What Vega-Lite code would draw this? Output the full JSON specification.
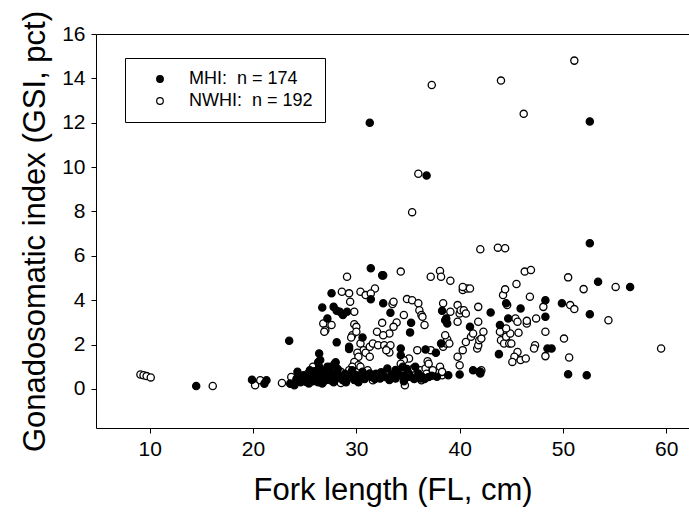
{
  "$schema": "https://vega.github.io/schema/vega-lite/v6.json",
  "width": 593,
  "height": 394,
  "autosize": {"type": "none"},
  "padding": {"left": 96, "top": 34, "right": 0, "bottom": 95},
  "background": "white",
  "config": {
    "font": "Liberation Sans",
    "view": {"stroke": null},
    "axis": {"grid": false, "domainColor": "black", "tickColor": "black", "labelColor": "black", "titleColor": "black", "titleFontWeight": "normal", "domainWidth": 1, "tickWidth": 1}
  },
  "data": {"values": [
    {"g":"NWHI","x":9.1,"y":0.65},{"g":"NWHI","x":9.4,"y":0.62},{"g":"NWHI","x":9.7,"y":0.58},{"g":"NWHI","x":10.1,"y":0.52},{"g":"NWHI","x":16.1,"y":0.13},{"g":"NWHI","x":20.2,"y":0.17},{"g":"NWHI","x":20.7,"y":0.39},{"g":"NWHI","x":22.8,"y":0.27},{"g":"NWHI","x":23.7,"y":0.54},
    {"g":"NWHI","x":51.1,"y":14.8},{"g":"NWHI","x":44.0,"y":13.9},{"g":"NWHI","x":37.3,"y":13.7},{"g":"NWHI","x":46.2,"y":12.4},{"g":"NWHI","x":36.0,"y":9.7},{"g":"NWHI","x":35.4,"y":7.97},{"g":"NWHI","x":42.0,"y":6.3},{"g":"NWHI","x":43.7,"y":6.37},{"g":"NWHI","x":44.4,"y":6.34},{"g":"NWHI","x":46.3,"y":5.29},{"g":"NWHI","x":46.9,"y":5.36},{"g":"NWHI","x":50.5,"y":5.03},{"g":"NWHI","x":52.0,"y":4.5},{"g":"NWHI","x":55.1,"y":4.6},{"g":"NWHI","x":54.4,"y":3.1},{"g":"NWHI","x":59.5,"y":1.82},{"g":"NWHI","x":50.1,"y":2.27},{"g":"NWHI","x":50.6,"y":1.42},{"g":"NWHI","x":50.7,"y":3.78},{"g":"NWHI","x":51.1,"y":3.6},
    {"g":"NWHI","x":29.1,"y":5.06},{"g":"NWHI","x":34.3,"y":5.29},{"g":"NWHI","x":32.6,"y":5.12},{"g":"NWHI","x":37.2,"y":5.06},{"g":"NWHI","x":38.1,"y":5.32},{"g":"NWHI","x":38.2,"y":5.06},{"g":"NWHI","x":39.1,"y":4.88},
    {"g":"NWHI","x":28.6,"y":4.38},{"g":"NWHI","x":29.3,"y":4.31},{"g":"NWHI","x":29.4,"y":3.93},{"g":"NWHI","x":30.4,"y":4.38},{"g":"NWHI","x":30.9,"y":4.23},{"g":"NWHI","x":31.8,"y":4.53},{"g":"NWHI","x":31.4,"y":4.3},{"g":"NWHI","x":29.8,"y":3.48},
    {"g":"NWHI","x":33.5,"y":3.83},{"g":"NWHI","x":33.6,"y":3.93},{"g":"NWHI","x":34.9,"y":4.05},{"g":"NWHI","x":35.4,"y":4.0},{"g":"NWHI","x":36.0,"y":3.86},{"g":"NWHI","x":36.1,"y":3.55},{"g":"NWHI","x":36.3,"y":3.33},{"g":"NWHI","x":36.4,"y":3.25},{"g":"NWHI","x":36.6,"y":2.88},{"g":"NWHI","x":34.6,"y":3.33},{"g":"NWHI","x":33.9,"y":3.0},{"g":"NWHI","x":33.6,"y":2.8},{"g":"NWHI","x":33.2,"y":2.5},{"g":"NWHI","x":32.5,"y":2.98},{"g":"NWHI","x":32.0,"y":2.58},{"g":"NWHI","x":32.6,"y":2.42},
    {"g":"NWHI","x":26.8,"y":2.95},{"g":"NWHI","x":27.0,"y":2.65},{"g":"NWHI","x":26.9,"y":2.58},{"g":"NWHI","x":27.6,"y":2.88},{"g":"NWHI","x":29.8,"y":2.92},{"g":"NWHI","x":30.0,"y":2.8},{"g":"NWHI","x":29.6,"y":2.42},{"g":"NWHI","x":29.5,"y":2.32},{"g":"NWHI","x":30.0,"y":2.58},
    {"g":"NWHI","x":30.4,"y":2.05},{"g":"NWHI","x":30.7,"y":1.75},{"g":"NWHI","x":30.9,"y":1.63},{"g":"NWHI","x":31.3,"y":1.9},{"g":"NWHI","x":31.6,"y":2.05},{"g":"NWHI","x":32.1,"y":1.97},{"g":"NWHI","x":32.7,"y":1.97},{"g":"NWHI","x":33.0,"y":1.82},{"g":"NWHI","x":33.3,"y":1.97},{"g":"NWHI","x":33.2,"y":1.64},{"g":"NWHI","x":32.9,"y":1.75},{"g":"NWHI","x":31.3,"y":1.45},{"g":"NWHI","x":30.1,"y":1.63},{"g":"NWHI","x":30.2,"y":1.45},
    {"g":"NWHI","x":29.8,"y":1.22},{"g":"NWHI","x":30.2,"y":1.07},{"g":"NWHI","x":29.6,"y":1.0},
    {"g":"NWHI","x":35.9,"y":1.75},{"g":"NWHI","x":35.1,"y":1.37},{"g":"NWHI","x":34.6,"y":1.3},{"g":"NWHI","x":34.3,"y":1.14},{"g":"NWHI","x":35.5,"y":0.92},{"g":"NWHI","x":36.2,"y":0.84},{"g":"NWHI","x":36.7,"y":0.92},{"g":"NWHI","x":36.9,"y":1.25},{"g":"NWHI","x":37.0,"y":1.14},{"g":"NWHI","x":37.2,"y":1.75},
    {"g":"NWHI","x":38.1,"y":1.0},{"g":"NWHI","x":38.3,"y":0.62},{"g":"NWHI","x":38.4,"y":1.9},{"g":"NWHI","x":38.7,"y":2.05},{"g":"NWHI","x":38.8,"y":2.23},{"g":"NWHI","x":39.0,"y":2.05},{"g":"NWHI","x":38.6,"y":2.42},{"g":"NWHI","x":39.1,"y":3.48},{"g":"NWHI","x":38.4,"y":3.86},{"g":"NWHI","x":39.8,"y":3.03},{"g":"NWHI","x":39.8,"y":3.78},{"g":"NWHI","x":40.0,"y":3.4},{"g":"NWHI","x":40.1,"y":3.55},{"g":"NWHI","x":40.4,"y":3.55},{"g":"NWHI","x":40.6,"y":3.4},{"g":"NWHI","x":40.3,"y":4.46},{"g":"NWHI","x":40.7,"y":4.53},{"g":"NWHI","x":41.0,"y":4.53},{"g":"NWHI","x":40.3,"y":4.6},{"g":"NWHI","x":39.8,"y":1.45},{"g":"NWHI","x":40.0,"y":1.07},{"g":"NWHI","x":40.3,"y":1.75},{"g":"NWHI","x":40.6,"y":2.12},{"g":"NWHI","x":41.1,"y":2.35},{"g":"NWHI","x":41.3,"y":2.5},{"g":"NWHI","x":41.7,"y":1.82},{"g":"NWHI","x":41.8,"y":1.97},{"g":"NWHI","x":41.9,"y":2.2},{"g":"NWHI","x":42.1,"y":2.27},{"g":"NWHI","x":42.3,"y":2.58},{"g":"NWHI","x":41.8,"y":3.03},{"g":"NWHI","x":41.8,"y":3.7},{"g":"NWHI","x":42.1,"y":0.84},{"g":"NWHI","x":41.9,"y":0.77},
    {"g":"NWHI","x":43.9,"y":2.58},{"g":"NWHI","x":44.0,"y":2.2},{"g":"NWHI","x":44.3,"y":2.05},{"g":"NWHI","x":44.5,"y":2.35},{"g":"NWHI","x":44.8,"y":2.05},{"g":"NWHI","x":45.0,"y":2.05},{"g":"NWHI","x":44.9,"y":2.5},{"g":"NWHI","x":44.5,"y":2.73},{"g":"NWHI","x":44.2,"y":4.23},{"g":"NWHI","x":44.4,"y":4.49},{"g":"NWHI","x":44.6,"y":3.78},{"g":"NWHI","x":45.5,"y":4.73},{"g":"NWHI","x":45.4,"y":3.18},{"g":"NWHI","x":45.6,"y":3.03},{"g":"NWHI","x":45.7,"y":2.53},{"g":"NWHI","x":45.6,"y":1.67},{"g":"NWHI","x":45.3,"y":1.45},{"g":"NWHI","x":45.1,"y":1.22},{"g":"NWHI","x":45.9,"y":1.3},{"g":"NWHI","x":46.4,"y":1.37},{"g":"NWHI","x":46.5,"y":2.95},{"g":"NWHI","x":46.5,"y":3.07},{"g":"NWHI","x":46.8,"y":4.16},{"g":"NWHI","x":47.4,"y":3.18},{"g":"NWHI","x":47.3,"y":1.97},{"g":"NWHI","x":47.2,"y":1.82},{"g":"NWHI","x":48.1,"y":3.7},{"g":"NWHI","x":48.3,"y":2.58},{"g":"NWHI","x":48.3,"y":1.48},
    {"g":"NWHI","x":26.6,"y":0.39},{"g":"NWHI","x":27.5,"y":0.39},{"g":"NWHI","x":28.5,"y":0.27},{"g":"NWHI","x":28.5,"y":0.77},{"g":"NWHI","x":28.0,"y":0.84},{"g":"NWHI","x":27.2,"y":0.62},{"g":"NWHI","x":26.8,"y":0.32},{"g":"NWHI","x":29.3,"y":0.84},{"g":"NWHI","x":30.0,"y":0.54},{"g":"NWHI","x":30.4,"y":1.0},{"g":"NWHI","x":31.1,"y":0.84},{"g":"NWHI","x":31.6,"y":0.39},{"g":"NWHI","x":32.1,"y":0.54},{"g":"NWHI","x":32.6,"y":0.69},{"g":"NWHI","x":33.0,"y":0.62},{"g":"NWHI","x":33.2,"y":0.47},{"g":"NWHI","x":33.6,"y":0.69},{"g":"NWHI","x":33.8,"y":0.54},{"g":"NWHI","x":34.7,"y":0.17},{"g":"NWHI","x":34.9,"y":0.54},{"g":"NWHI","x":35.7,"y":0.62},{"g":"NWHI","x":36.3,"y":0.39},{"g":"NWHI","x":36.8,"y":0.69},{"g":"NWHI","x":37.4,"y":0.84},{"g":"NWHI","x":38.3,"y":0.77},
    {"g":"NWHI","x":25.3,"y":0.69},{"g":"NWHI","x":25.8,"y":1.0},{"g":"NWHI","x":26.2,"y":0.54},
    {"g":"MHI","x":14.5,"y":0.13},{"g":"MHI","x":19.9,"y":0.42},{"g":"MHI","x":21.1,"y":0.24},{"g":"MHI","x":21.3,"y":0.39},{"g":"MHI","x":23.5,"y":2.17},{"g":"MHI","x":23.6,"y":0.24},{"g":"MHI","x":24.0,"y":0.17},{"g":"MHI","x":24.3,"y":0.77},{"g":"MHI","x":24.5,"y":0.47},{"g":"MHI","x":24.9,"y":0.62},{"g":"MHI","x":25.1,"y":0.32},{"g":"MHI","x":25.3,"y":0.47},{"g":"MHI","x":25.5,"y":0.84},{"g":"MHI","x":25.7,"y":0.54},{"g":"MHI","x":25.9,"y":0.77},{"g":"MHI","x":26.2,"y":0.62},{"g":"MHI","x":26.2,"y":0.39},{"g":"MHI","x":26.4,"y":1.0},{"g":"MHI","x":26.4,"y":1.6},{"g":"MHI","x":26.5,"y":1.3},{"g":"MHI","x":26.6,"y":0.69},{"g":"MHI","x":26.8,"y":0.47},{"g":"MHI","x":27.0,"y":0.84},{"g":"MHI","x":27.2,"y":1.0},{"g":"MHI","x":27.4,"y":0.54},{"g":"MHI","x":27.7,"y":0.69},{"g":"MHI","x":27.9,"y":1.14},{"g":"MHI","x":28.1,"y":0.47},{"g":"MHI","x":28.3,"y":0.62},{"g":"MHI","x":28.7,"y":0.39},{"g":"MHI","x":28.9,"y":0.69},{"g":"MHI","x":29.1,"y":0.47},{"g":"MHI","x":29.4,"y":0.54},{"g":"MHI","x":29.6,"y":0.84},{"g":"MHI","x":30.0,"y":0.62},{"g":"MHI","x":30.4,"y":0.47},{"g":"MHI","x":30.6,"y":0.77},{"g":"MHI","x":31.1,"y":0.62},{"g":"MHI","x":31.5,"y":0.54},{"g":"MHI","x":31.9,"y":0.69},{"g":"MHI","x":32.3,"y":0.47},{"g":"MHI","x":32.8,"y":0.54},{"g":"MHI","x":33.0,"y":0.92},{"g":"MHI","x":33.4,"y":0.62},{"g":"MHI","x":33.8,"y":0.47},{"g":"MHI","x":34.0,"y":0.77},{"g":"MHI","x":34.3,"y":0.62},{"g":"MHI","x":34.3,"y":1.82},{"g":"MHI","x":34.3,"y":1.52},{"g":"MHI","x":34.5,"y":1.0},{"g":"MHI","x":34.7,"y":0.47},{"g":"MHI","x":34.9,"y":0.69},{"g":"MHI","x":35.3,"y":0.54},{"g":"MHI","x":35.7,"y":1.0},{"g":"MHI","x":36.2,"y":0.47},{"g":"MHI","x":36.4,"y":0.54},{"g":"MHI","x":36.7,"y":1.78},{"g":"MHI","x":37.0,"y":0.54},{"g":"MHI","x":37.7,"y":1.63},{"g":"MHI","x":38.2,"y":2.05},{"g":"MHI","x":38.3,"y":3.52},{"g":"MHI","x":38.7,"y":3.18},{"g":"MHI","x":38.8,"y":2.95},{"g":"MHI","x":38.9,"y":0.62},{"g":"MHI","x":40.0,"y":0.65},{"g":"MHI","x":41.0,"y":2.8},{"g":"MHI","x":41.3,"y":0.84},{"g":"MHI","x":42.0,"y":0.77},{"g":"MHI","x":43.0,"y":3.45},{"g":"MHI","x":43.8,"y":1.57},{"g":"MHI","x":43.9,"y":2.88},{"g":"MHI","x":44.5,"y":3.86},{"g":"MHI","x":44.7,"y":3.18},{"g":"MHI","x":45.9,"y":3.63},{"g":"MHI","x":48.3,"y":4.0},{"g":"MHI","x":48.3,"y":3.25},{"g":"MHI","x":48.5,"y":1.82},{"g":"MHI","x":48.9,"y":1.82},{"g":"MHI","x":49.9,"y":3.86},{"g":"MHI","x":50.5,"y":0.66},{"g":"MHI","x":52.3,"y":0.62},{"g":"MHI","x":52.6,"y":3.37},{"g":"MHI","x":52.6,"y":6.57},{"g":"MHI","x":52.6,"y":12.06},{"g":"MHI","x":53.4,"y":4.83},{"g":"MHI","x":56.5,"y":4.6},{"g":"MHI","x":31.3,"y":12.0},{"g":"MHI","x":36.8,"y":9.62},{"g":"MHI","x":31.4,"y":5.44},{"g":"MHI","x":32.5,"y":5.12},{"g":"MHI","x":31.4,"y":4.04},{"g":"MHI","x":32.6,"y":3.86},{"g":"MHI","x":33.3,"y":3.43},{"g":"MHI","x":27.6,"y":4.31},{"g":"MHI","x":26.7,"y":3.67},{"g":"MHI","x":27.2,"y":3.18},{"g":"MHI","x":27.8,"y":3.7},{"g":"MHI","x":28.1,"y":3.52},{"g":"MHI","x":28.4,"y":3.48},{"g":"MHI","x":28.7,"y":3.33},{"g":"MHI","x":29.1,"y":3.48},{"g":"MHI","x":29.3,"y":1.9},{"g":"MHI","x":29.3,"y":1.8},{"g":"MHI","x":28.1,"y":2.1},{"g":"MHI","x":30.6,"y":2.32},{"g":"MHI","x":35.2,"y":2.55},{"g":"MHI","x":35.3,"y":2.98},
    {"g":"MHI","x":24.6,"y":0.3},{"g":"MHI","x":25.0,"y":0.45},{"g":"MHI","x":25.4,"y":0.25},{"g":"MHI","x":25.8,"y":0.35},{"g":"MHI","x":26.0,"y":0.8},{"g":"MHI","x":26.3,"y":0.3},{"g":"MHI","x":26.7,"y":0.25},{"g":"MHI","x":27.1,"y":0.4},{"g":"MHI","x":27.3,"y":0.75},{"g":"MHI","x":27.8,"y":0.3},{"g":"MHI","x":28.2,"y":0.9},{"g":"MHI","x":28.6,"y":0.55},{"g":"MHI","x":29.0,"y":0.3},{"g":"MHI","x":29.8,"y":0.4},{"g":"MHI","x":30.2,"y":0.3},{"g":"MHI","x":30.8,"y":0.45},{"g":"MHI","x":31.3,"y":0.7},{"g":"MHI","x":31.8,"y":0.45},{"g":"MHI","x":32.4,"y":0.75},{"g":"MHI","x":33.2,"y":0.4},{"g":"MHI","x":33.8,"y":0.85},{"g":"MHI","x":34.6,"y":0.35},{"g":"MHI","x":35.0,"y":0.75},{"g":"MHI","x":35.6,"y":0.45},{"g":"MHI","x":36.0,"y":0.7},{"g":"MHI","x":36.6,"y":0.45},{"g":"MHI","x":37.3,"y":0.6},{"g":"MHI","x":37.8,"y":0.55},{"g":"MHI","x":26.3,"y":1.2},{"g":"MHI","x":27.5,"y":1.0},{"g":"MHI","x":28.0,"y":1.2},{"g":"MHI","x":34.9,"y":0.9},{"g":"MHI","x":25.6,"y":0.6},{"g":"MHI","x":24.2,"y":0.45},{"g":"MHI","x":42.0,"y":0.7},{"g":"MHI","x":38.6,"y":3.1}
  ]},
  "encoding": {
    "y": {"field": "y", "type": "quantitative",
      "scale": {"domain": [-1.76, 16], "nice": false, "zero": false},
      "axis": {"values": [0,2,4,6,8,10,12,14,16], "title": "Gonadosomatic index (GSI, pct)", "labelFontSize": 21, "titleFontSize": 31, "tickSize": 5, "labelPadding": 6, "titlePadding": 10}}
  },
  "layer": [
    {
      "mark": {"type": "point", "shape": "circle", "filled": true, "stroke": "black", "strokeWidth": 1.3, "size": 52, "opacity": 1},
      "encoding": {
        "x": {"field": "x", "type": "quantitative",
          "scale": {"domain": [4.8, 62.2], "nice": false, "zero": false},
          "axis": {"orient": "bottom", "values": [10,20,30,40,50,60], "title": "Fork length (FL, cm)", "labelFontSize": 21, "titleFontSize": 31, "tickSize": 5, "labelPadding": 5, "titlePadding": 16}},
        "fill": {"field": "g", "type": "nominal",
          "scale": {"domain": ["MHI", "NWHI"], "range": ["black", "white"]},
          "legend": {"orient": "none", "legendX": 29, "legendY": 24, "title": null, "strokeColor": "black", "fillColor": "white", "padding": 12, "symbolOffset": 14, "labelOffset": 20, "labelFontSize": 18, "labelColor": "black", "rowPadding": 4, "symbolType": "circle", "symbolSize": 44, "symbolStrokeColor": "black", "symbolStrokeWidth": 1.2,
            "labelExpr": "datum.label == 'MHI' ? 'MHI:\u00a0 n = 174' : 'NWHI:\u00a0 n = 192'"}}
      }
    },
    {
      "mark": {"type": "point", "opacity": 0},
      "encoding": {
        "x": {"field": "x", "type": "quantitative",
          "axis": {"orient": "top", "labels": false, "ticks": false, "title": null}}
      }
    }
  ],
  "resolve": {"axis": {"x": "independent"}}
}
